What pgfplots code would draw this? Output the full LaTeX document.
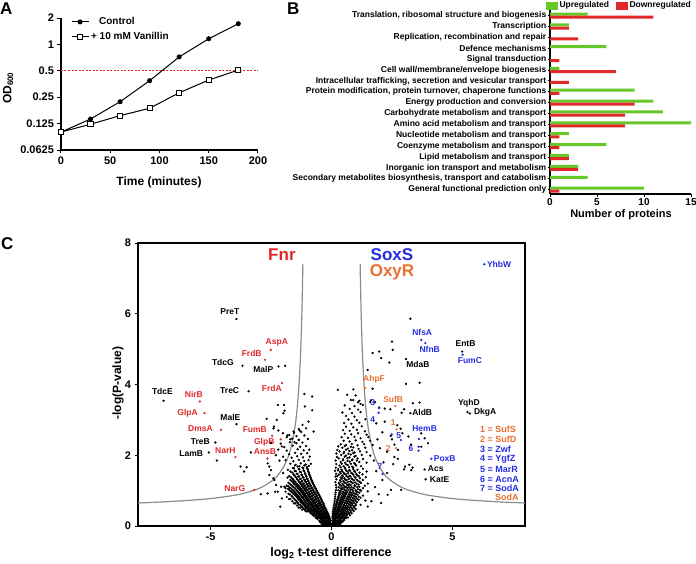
\documentclass[border=0pt]{standalone}
\usepackage{fontspec}
\setmainfont{Liberation Sans}
\usepackage{pgfplots}
\pgfplotsset{compat=1.18}
\newcommand{\fs}[1]{\fontsize{#1}{#1}\selectfont\bfseries}
\definecolor{cred}{RGB}{224,40,40}
\definecolor{cblue}{RGB}{35,45,225}
\definecolor{corange}{RGB}{232,112,50}
\definecolor{cgreen}{RGB}{102,200,40}
\definecolor{curvegray}{RGB}{140,140,140}
\tikzset{lab/.style={font=\fs{8.5}, inner sep=0pt}}
\begin{document}
\begin{tikzpicture}
\useasboundingbox (0,0) rectangle (696pt,-564pt);
% ---------------- Panel A ----------------
\begin{axis}[
 at={(61pt,-150pt)}, anchor=south west, scale only axis, width=197pt, height=132pt,
 xmin=0, xmax=200, ymode=log, log basis y=2, ymin=0.0625, ymax=2,
 axis x line*=bottom, axis y line*=left,
 xtick={0,50,100,150,200}, ytick={0.0625,0.125,0.25,0.5,1,2}, yticklabels={0.0625,0.125,0.25,0.5,1,2},
 tick align=outside, major tick length=3.5pt, every tick/.style={black, line width=1pt},
 axis line style={line width=1.2pt},
 /pgf/number format/assume math mode=true,
 tick label style={font=\fs{11}},
 clip=false,
 legend style={at={(0.05,1.02)}, anchor=north west, draw=none, fill=none, font=\fs{10}, row sep=2pt, inner sep=0pt},
 legend cell align=left,
]
\addplot[cred, line width=0.6pt, dash pattern=on 2pt off 1.5pt, forget plot] coordinates {(0,0.5)(200,0.5)};
\addplot[black, line width=1pt, mark=*, mark size=2pt] coordinates {(0,0.1)(30,0.141)(60,0.222)(90,0.386)(120,0.72)(150,1.16)(180,1.72)};
\addplot[black, line width=1pt, mark=square*, mark options={fill=white, line width=1pt}, mark size=2.6pt] coordinates {(0,0.1)(30,0.123)(60,0.154)(90,0.187)(120,0.281)(150,0.392)(180,0.51)};
\legend{\hspace{8pt}Control, + 10 mM Vanillin}
\end{axis}
% ---------------- Panel B ----------------
\begin{axis}[
 at={(550pt,-194pt)}, anchor=south west, scale only axis, width=141pt, height=186pt,
 xmin=0, xmax=15, ymin=-0.7, ymax=16.4, y dir=reverse,
 axis x line*=bottom, axis y line*=left,
 xtick={0,5,10,15}, ytick={0,...,16},
 yticklabels={{Translation, ribosomal structure and biogenesis},Transcription,{Replication, recombination and repair},Defence mechanisms,Signal transduction,Cell wall/membrane/envelope biogenesis,{Intracellular trafficking, secretion and vesicular transport},{Protein modification, protein turnover, chaperone functions},Energy production and conversion,Carbohydrate metabolism and transport,Amino acid metabolism and transport,Nucleotide metabolism and transport,Coenzyme metabolism and transport,Lipid metabolism and transport,Inorganic ion transport and metabolism,{Secondary metabolites biosynthesis, transport and catabolism},General functional prediction only},
 tick align=outside, major tick length=2.5pt, every tick/.style={black,line width=0.9pt},
 axis line style={line width=1.2pt},
 yticklabel style={font=\fs{8.5}, inner sep=1pt},
 xticklabel style={font=\fs{10}, inner sep=1.5pt},
 /pgf/number format/assume math mode=true,
 clip=false,
 legend columns=2,
 legend style={at={(1.015,1.045)}, anchor=north east, draw=none, fill=none, font=\fs{8.5}, inner sep=0pt, /tikz/every even column/.append style={column sep=5pt}},
]
\addplot[xbar, bar shift=0pt, bar width=3pt, fill=cgreen, draw=none, forget plot] coordinates {(4,-0.14)(2,0.86)(6,2.86)(1,4.86)(9,6.86)(11,7.86)(12,8.86)(15,9.86)(2,10.86)(6,11.86)(2,12.86)(3,13.86)(4,14.86)(10,15.86)};
\addplot[xbar, bar shift=0pt, bar width=3pt, fill=cred, draw=none, forget plot] coordinates {(11,0.14)(2,1.14)(3,2.14)(1,4.14)(7,5.14)(2,6.14)(1,7.14)(9,8.14)(8,9.14)(8,10.14)(1,11.14)(1,12.14)(2,13.14)(3,14.14)(1,16.14)};
\addlegendimage{legend image code/.code={\fill[cgreen] (0pt,-3.5pt) rectangle (11pt,3.5pt);}}
\addlegendentry{Upregulated}
\addlegendimage{legend image code/.code={\fill[cred] (0pt,-3.5pt) rectangle (11pt,3.5pt);}}
\addlegendentry{Downregulated}
\end{axis}
% ---------------- Panel C ----------------
\begin{axis}[
 at={(138pt,-526pt)}, anchor=south west, scale only axis, width=387pt, height=283pt,
 xmin=-8, xmax=8, ymin=0, ymax=8,
 xtick={-5,0,5}, ytick={0,2,4,6,8},
 xtick pos=left, ytick pos=left,
 tick align=outside, major tick length=3.5pt, every tick/.style={black,line width=1pt},
 axis line style={line width=1.3pt},
 tick label style={font=\fs{11}},
 /pgf/number format/assume math mode=true,
 clip=false,
]
\addplot[curvegray, line width=1.2pt, smooth] coordinates {(-1.184,7.40)(-1.19,7.16)(-1.2,6.79)(-1.22,6.16)(-1.25,5.42)(-1.28,4.85)(-1.32,4.27)(-1.36,3.83)(-1.4,3.47)(-1.45,3.13)(-1.5,2.85)(-1.6,2.45)(-1.7,2.16)(-1.8,1.94)(-2.0,1.65)(-2.25,1.41)(-2.5,1.26)(-2.75,1.15)(-3.0,1.06)(-3.5,0.95)(-4.0,0.87)(-5.0,0.775)(-6.0,0.72)(-7.0,0.68)(-8.0,0.65)};
\addplot[curvegray, line width=1.2pt, smooth] coordinates {(1.184,7.40)(1.19,7.16)(1.2,6.79)(1.22,6.16)(1.25,5.42)(1.28,4.85)(1.32,4.27)(1.36,3.83)(1.4,3.47)(1.45,3.13)(1.5,2.85)(1.6,2.45)(1.7,2.16)(1.8,1.94)(2.0,1.65)(2.25,1.41)(2.5,1.26)(2.75,1.15)(3.0,1.06)(3.5,0.95)(4.0,0.87)(5.0,0.775)(6.0,0.72)(7.0,0.68)(8.0,0.65)};
% left cloud
\addplot[only marks, mark=*, mark size=0.95pt, black] coordinates {
(-0.02,0.03)(-0.06,0.01)(-0.1,0.04)(-0.14,0.02)(-0.19,0.05)(-0.24,0.01)(-0.3,0.03)
(-0.03,0.07)(-0.08,0.05)(-0.12,0.08)(-0.17,0.06)(-0.22,0.04)(-0.27,0.08)(-0.33,0.06)(-0.4,0.05)
(-0.05,0.11)(-0.1,0.09)(-0.15,0.12)(-0.2,0.1)(-0.26,0.12)(-0.31,0.09)(-0.37,0.11)(-0.45,0.1)
(-0.04,0.16)(-0.09,0.14)(-0.14,0.17)(-0.19,0.15)(-0.24,0.13)(-0.3,0.16)(-0.36,0.14)(-0.42,0.17)(-0.5,0.15)
(-0.07,0.21)(-0.12,0.19)(-0.18,0.22)(-0.24,0.2)(-0.3,0.18)(-0.36,0.21)(-0.43,0.19)(-0.5,0.22)(-0.58,0.2)
(-0.1,0.27)(-0.16,0.25)(-0.22,0.28)(-0.28,0.24)(-0.35,0.27)(-0.42,0.25)(-0.5,0.28)(-0.57,0.26)(-0.65,0.24)
(-0.13,0.33)(-0.2,0.31)(-0.27,0.34)(-0.34,0.3)(-0.41,0.33)(-0.49,0.31)(-0.56,0.34)(-0.64,0.32)(-0.72,0.3)(-0.8,0.33)
(-0.17,0.39)(-0.25,0.37)(-0.32,0.4)(-0.4,0.36)(-0.48,0.39)(-0.55,0.37)(-0.63,0.4)(-0.71,0.38)(-0.8,0.36)(-0.9,0.39)
(-0.21,0.45)(-0.29,0.43)(-0.37,0.46)(-0.45,0.42)(-0.54,0.45)(-0.62,0.43)(-0.7,0.46)(-0.78,0.44)(-0.87,0.42)(-0.97,0.45)(-1.08,0.43)
(-0.25,0.51)(-0.34,0.49)(-0.43,0.52)(-0.51,0.48)(-0.6,0.51)(-0.68,0.49)(-0.77,0.52)(-0.86,0.5)(-0.95,0.48)(-1.05,0.51)(-1.16,0.49)(-1.3,0.52)
(-0.3,0.57)(-0.39,0.55)(-0.48,0.58)(-0.57,0.54)(-0.66,0.57)(-0.75,0.55)(-0.84,0.58)(-0.93,0.56)(-1.02,0.54)(-1.12,0.57)(-1.24,0.55)
(-0.33,0.63)(-0.44,0.61)(-0.53,0.64)(-0.62,0.6)(-0.72,0.63)(-0.81,0.61)(-0.9,0.64)(-1.0,0.62)(-1.1,0.6)(-1.2,0.63)(-1.35,0.61)(-1.5,0.64)
(-0.38,0.69)(-0.48,0.67)(-0.58,0.7)(-0.68,0.66)(-0.77,0.69)(-0.87,0.67)(-0.97,0.7)(-1.07,0.68)(-1.17,0.66)(-1.28,0.69)(-1.42,0.67)
(-0.42,0.75)(-0.53,0.73)(-0.63,0.76)(-0.73,0.72)(-0.83,0.75)(-0.93,0.73)(-1.03,0.76)(-1.13,0.74)(-1.23,0.72)(-1.35,0.75)(-1.5,0.73)(-1.7,0.76)
(-0.46,0.81)(-0.57,0.79)(-0.68,0.82)(-0.79,0.78)(-0.89,0.81)(-0.99,0.79)(-1.09,0.82)(-1.19,0.8)(-1.3,0.78)(-1.42,0.81)(-1.58,0.79)(-1.85,0.82)
(-0.5,0.87)(-0.62,0.85)(-0.73,0.88)(-0.84,0.84)(-0.95,0.87)(-1.05,0.85)(-1.15,0.88)(-1.26,0.86)(-1.37,0.84)(-1.5,0.87)(-1.65,0.85)
(-0.55,0.93)(-0.67,0.91)(-0.78,0.94)(-0.9,0.9)(-1.0,0.93)(-1.11,0.91)(-1.22,0.94)(-1.33,0.92)(-1.45,0.9)(-1.6,0.93)(-1.78,0.91)
(-0.6,0.99)(-0.72,0.97)(-0.84,1.0)(-0.95,0.96)(-1.06,0.99)(-1.17,0.97)(-1.28,1.0)(-1.4,0.98)(-1.53,0.96)(-1.7,0.99)(-1.9,0.97)
(-0.64,1.05)(-0.77,1.03)(-0.89,1.06)(-1.01,1.02)(-1.12,1.05)(-1.24,1.03)(-1.36,1.06)(-1.48,1.04)(-1.62,1.02)(-1.8,1.05)
(-0.7,1.11)(-0.82,1.09)(-0.95,1.12)(-1.07,1.08)(-1.19,1.11)(-1.3,1.09)(-1.43,1.12)(-1.57,1.1)(-1.72,1.08)(-1.95,1.11)
(-0.73,1.17)(-0.87,1.15)(-1.0,1.18)(-1.12,1.14)(-1.25,1.17)(-1.38,1.15)(-1.52,1.18)(-1.67,1.16)(-1.85,1.14)
(-0.78,1.23)(-0.92,1.21)(-1.05,1.24)(-1.18,1.2)(-1.32,1.23)(-1.46,1.21)(-1.6,1.24)(-1.78,1.22)
(-0.82,1.29)(-0.97,1.27)(-1.1,1.3)(-1.24,1.26)(-1.38,1.29)(-1.54,1.27)(-1.7,1.3)
(-0.86,1.36)(-1.02,1.34)(-1.16,1.37)(-1.3,1.33)(-1.45,1.36)(-1.62,1.34)(-1.82,1.37)
(-0.9,1.43)(-1.06,1.41)(-1.22,1.44)(-1.37,1.4)(-1.53,1.43)(-1.75,1.41)
(-0.94,1.51)(-1.1,1.49)(-1.27,1.52)(-1.44,1.48)(-1.62,1.51)
(-0.98,1.59)(-1.15,1.57)(-1.33,1.6)(-1.52,1.56)(-1.8,1.59)
(-1.02,1.67)(-1.2,1.65)(-1.4,1.68)(-1.6,1.64)
(-0.85,1.76)(-1.07,1.74)(-1.27,1.77)(-1.48,1.73)(-1.7,1.76)
(-0.95,1.86)(-1.13,1.84)(-1.35,1.87)(-1.58,1.83)(-1.9,1.86)
(-0.9,1.96)(-1.18,1.94)(-1.42,1.97)(-1.65,1.93)(-2.0,1.96)
(-1.0,2.06)(-1.25,2.04)(-1.5,2.07)(-1.75,2.03)
(-0.92,2.16)(-1.15,2.14)(-1.4,2.17)(-1.85,2.13)(-2.2,2.16)
(-1.05,2.26)(-1.3,2.24)(-1.6,2.27)(-1.95,2.23)
(-1.2,2.36)(-1.45,2.34)(-1.72,2.37)(-2.1,2.33)
(-0.98,2.46)(-1.35,2.44)(-1.62,2.47)
(-1.12,2.56)(-1.45,2.54)(-1.75,2.57)
(-1.25,2.66)(-1.55,2.64)
(-1.05,2.76)(-1.35,2.74)
(-1.2,2.86)
(-0.04,0.04)(-0.08,0.03)(-0.12,0.05)(-0.16,0.03)(-0.21,0.06)(-0.27,0.04)(-0.34,0.05)
(-0.07,0.13)(-0.12,0.12)(-0.17,0.14)(-0.23,0.12)(-0.28,0.14)(-0.34,0.12)(-0.4,0.13)(-0.47,0.12)
(-0.09,0.23)(-0.15,0.24)(-0.21,0.22)(-0.27,0.24)(-0.33,0.23)(-0.39,0.22)(-0.46,0.24)(-0.54,0.23)(-0.62,0.22)
(-0.13,0.29)(-0.19,0.3)(-0.25,0.28)(-0.32,0.3)(-0.38,0.29)(-0.46,0.28)(-0.53,0.3)(-0.61,0.29)(-0.69,0.28)(-0.76,0.3)
(-0.16,0.35)(-0.23,0.36)(-0.3,0.34)(-0.37,0.36)(-0.45,0.35)(-0.52,0.34)(-0.6,0.36)(-0.68,0.35)(-0.76,0.34)(-0.85,0.36)
(-0.2,0.41)(-0.28,0.42)(-0.36,0.4)(-0.44,0.42)(-0.51,0.41)(-0.59,0.4)(-0.67,0.42)(-0.75,0.41)(-0.84,0.4)(-0.93,0.42)(-1.02,0.41)
(-0.24,0.47)(-0.32,0.48)(-0.41,0.46)(-0.49,0.48)(-0.57,0.47)(-0.66,0.46)(-0.74,0.48)(-0.82,0.47)(-0.91,0.46)(-1.0,0.48)(-1.11,0.47)(-1.22,0.46)
(-0.28,0.53)(-0.37,0.54)(-0.46,0.52)(-0.55,0.54)(-0.63,0.53)(-0.72,0.52)(-0.81,0.54)(-0.9,0.53)(-0.99,0.52)(-1.09,0.54)(-1.2,0.53)(-1.36,0.52)
(-0.31,0.59)(-0.41,0.6)(-0.5,0.58)(-0.6,0.6)(-0.69,0.59)(-0.78,0.58)(-0.87,0.6)(-0.96,0.59)(-1.06,0.58)(-1.16,0.6)(-1.28,0.59)(-1.42,0.58)
(-0.35,0.65)(-0.46,0.66)(-0.55,0.64)(-0.65,0.66)(-0.75,0.65)(-0.84,0.64)(-0.94,0.66)(-1.04,0.65)(-1.14,0.64)(-1.25,0.66)(-1.38,0.65)(-1.55,0.64)
(-0.4,0.71)(-0.51,0.72)(-0.61,0.7)(-0.71,0.72)(-0.8,0.71)(-0.9,0.7)(-1.0,0.72)(-1.1,0.71)(-1.2,0.7)(-1.31,0.72)(-1.45,0.71)(-1.62,0.7)
(-0.44,0.77)(-0.55,0.78)(-0.66,0.76)(-0.76,0.78)(-0.86,0.77)(-0.96,0.76)(-1.06,0.78)(-1.16,0.77)(-1.27,0.76)(-1.39,0.78)(-1.54,0.77)(-1.76,0.76)
(-0.48,0.83)(-0.6,0.84)(-0.7,0.82)(-0.81,0.84)(-0.92,0.83)(-1.02,0.82)(-1.12,0.84)(-1.23,0.83)(-1.34,0.82)(-1.46,0.84)(-1.62,0.83)
(-0.53,0.89)(-0.65,0.9)(-0.76,0.88)(-0.87,0.9)(-0.97,0.89)(-1.08,0.88)(-1.19,0.9)(-1.3,0.89)(-1.41,0.88)(-1.55,0.9)(-1.72,0.89)
(-0.58,0.95)(-0.7,0.96)(-0.81,0.94)(-0.92,0.96)(-1.03,0.95)(-1.14,0.94)(-1.25,0.96)(-1.36,0.95)(-1.49,0.94)(-1.65,0.96)
(-0.62,1.01)(-0.75,1.02)(-0.86,1.0)(-0.98,1.02)(-1.09,1.01)(-1.2,1.0)(-1.32,1.02)(-1.44,1.01)(-1.57,1.0)(-1.75,1.02)
(-0.67,1.07)(-0.8,1.08)(-0.92,1.06)(-1.04,1.08)(-1.16,1.07)(-1.27,1.06)(-1.4,1.08)(-1.52,1.07)(-1.67,1.06)
(-0.72,1.13)(-0.85,1.14)(-0.98,1.12)(-1.1,1.14)(-1.22,1.13)(-1.34,1.12)(-1.47,1.14)(-1.62,1.13)(-1.78,1.12)
(-0.76,1.19)(-0.9,1.2)(-1.03,1.18)(-1.15,1.2)(-1.28,1.19)(-1.42,1.18)(-1.56,1.2)(-1.72,1.19)
(-0.8,1.26)(-0.95,1.27)(-1.08,1.25)(-1.21,1.27)(-1.35,1.26)(-1.5,1.25)(-1.65,1.27)
(-0.84,1.32)(-0.99,1.33)(-1.13,1.31)(-1.27,1.33)(-1.42,1.32)(-1.58,1.31)
(-0.88,1.39)(-1.04,1.4)(-1.19,1.38)(-1.34,1.4)(-1.49,1.39)(-1.68,1.38)
(-0.92,1.46)(-1.08,1.47)(-1.24,1.45)(-1.4,1.47)(-1.57,1.46)
(-0.96,1.54)(-1.13,1.55)(-1.3,1.53)(-1.48,1.55)(-1.7,1.54)
(-1.0,1.62)(-1.17,1.63)(-1.36,1.61)(-1.55,1.63)
(-0.94,1.7)(-1.12,1.71)(-1.33,1.69)(-1.52,1.71)
(-1.12,3.73)(-0.8,3.66)(-1.1,3.38)(-0.8,3.27)(-1.96,3.42)(-1.94,3.26)(-2.26,3.0)(-2.38,2.81)(-2.2,2.7)(-2.01,2.62)(-1.82,2.56)(-1.57,2.67)(-1.32,2.7)(-2.22,3.42)(-1.99,3.19)(-2.68,3.03)(-2.4,2.76)(-1.85,2.51)(-1.53,2.37)(-1.36,2.43)(-3.76,1.68)(-3.51,1.66)(-3.61,1.54)(-4.74,1.85)(-3.33,2.08)(-2.64,1.77)(-2.57,1.68)(-2.5,1.58)(-2.57,1.44)(-2.4,1.35)(-2.29,1.16)(-2.08,1.11)(-2.22,0.97)(-1.9,1.07)(-2.92,0.9)(-2.64,0.92)(-2.33,0.97)(-2.05,0.78)(-2.12,0.55)(-2.36,1.3)(-2.0,1.5)(-2.15,1.85)(-2.3,2.0)(-2.05,2.25)(-2.5,2.35)(-0.74,2.67)(-0.95,2.95)(-1.7,2.45)
(-2.19,4.51)(-1.92,4.53)(-3.93,5.85)(-3.68,4.53)(-6.94,3.54)(-3.43,3.81)(-3.93,2.88)(-4.8,2.36)(-5.07,2.08)
};
% right cloud
\addplot[only marks, mark=*, mark size=0.95pt, black] coordinates {
(0.02,0.03)(0.06,0.01)(0.1,0.04)(0.15,0.02)(0.2,0.05)(0.26,0.01)
(0.03,0.07)(0.08,0.05)(0.13,0.08)(0.18,0.06)(0.24,0.04)(0.3,0.08)(0.37,0.06)
(0.05,0.11)(0.1,0.09)(0.16,0.12)(0.22,0.1)(0.28,0.12)(0.35,0.09)(0.42,0.11)
(0.04,0.16)(0.1,0.14)(0.16,0.17)(0.22,0.15)(0.29,0.13)(0.36,0.16)(0.44,0.14)(0.52,0.17)
(0.07,0.21)(0.13,0.19)(0.2,0.22)(0.27,0.2)(0.34,0.18)(0.42,0.21)(0.5,0.19)(0.6,0.22)
(0.05,0.27)(0.12,0.25)(0.19,0.28)(0.26,0.24)(0.33,0.27)(0.41,0.25)(0.49,0.28)(0.58,0.26)(0.68,0.24)
(0.08,0.33)(0.15,0.31)(0.23,0.34)(0.31,0.3)(0.39,0.33)(0.47,0.31)(0.56,0.34)(0.65,0.32)(0.76,0.3)
(0.1,0.39)(0.18,0.37)(0.26,0.4)(0.35,0.36)(0.43,0.39)(0.52,0.37)(0.61,0.4)(0.71,0.38)(0.83,0.36)
(0.12,0.45)(0.21,0.43)(0.3,0.46)(0.39,0.42)(0.48,0.45)(0.57,0.43)(0.67,0.46)(0.78,0.44)(0.92,0.42)
(0.14,0.51)(0.24,0.49)(0.33,0.52)(0.43,0.48)(0.52,0.51)(0.62,0.49)(0.73,0.52)(0.85,0.5)(1.0,0.48)
(0.17,0.57)(0.27,0.55)(0.37,0.58)(0.47,0.54)(0.57,0.57)(0.68,0.55)(0.79,0.58)(0.92,0.56)
(0.19,0.63)(0.3,0.61)(0.4,0.64)(0.51,0.6)(0.62,0.63)(0.73,0.61)(0.85,0.64)(1.0,0.62)(1.2,0.6)
(0.22,0.69)(0.33,0.67)(0.44,0.7)(0.55,0.66)(0.66,0.69)(0.78,0.67)(0.9,0.7)(1.05,0.68)
(0.24,0.75)(0.36,0.73)(0.48,0.76)(0.6,0.72)(0.71,0.75)(0.83,0.73)(0.96,0.76)(1.12,0.74)(1.4,0.72)
(0.27,0.81)(0.39,0.79)(0.51,0.82)(0.63,0.78)(0.75,0.81)(0.88,0.79)(1.02,0.82)(1.2,0.8)
(0.3,0.87)(0.42,0.85)(0.55,0.88)(0.67,0.84)(0.8,0.87)(0.93,0.85)(1.08,0.88)(1.3,0.86)
(0.32,0.93)(0.45,0.91)(0.58,0.94)(0.71,0.9)(0.84,0.93)(0.98,0.91)(1.15,0.94)
(0.35,0.99)(0.48,0.97)(0.61,1.0)(0.75,0.96)(0.88,0.99)(1.03,0.97)(1.22,1.0)(1.5,0.98)
(0.38,1.06)(0.52,1.04)(0.65,1.07)(0.79,1.03)(0.93,1.06)(1.09,1.04)(1.3,1.07)
(0.41,1.13)(0.55,1.11)(0.69,1.14)(0.83,1.1)(0.98,1.13)(1.15,1.11)(1.38,1.14)
(0.3,1.21)(0.45,1.19)(0.59,1.22)(0.73,1.18)(0.88,1.21)(1.04,1.19)(1.22,1.22)(1.5,1.2)
(0.35,1.29)(0.49,1.27)(0.63,1.3)(0.78,1.26)(0.93,1.29)(1.1,1.27)(1.3,1.3)
(0.38,1.37)(0.53,1.35)(0.68,1.38)(0.83,1.34)(0.99,1.37)(1.17,1.35)(1.42,1.38)
(0.3,1.45)(0.45,1.43)(0.6,1.46)(0.75,1.42)(0.9,1.45)(1.07,1.43)(1.28,1.46)
(0.35,1.53)(0.5,1.51)(0.66,1.54)(0.82,1.5)(0.98,1.53)(1.16,1.51)(1.45,1.54)
(0.28,1.61)(0.42,1.59)(0.57,1.62)(0.73,1.58)(0.9,1.61)(1.07,1.59)(1.3,1.62)
(0.33,1.71)(0.5,1.69)(0.67,1.72)(0.85,1.68)(1.02,1.71)(1.22,1.69)
(0.38,1.81)(0.56,1.79)(0.75,1.82)(0.94,1.78)(1.15,1.81)(1.45,1.79)
(0.3,1.91)(0.48,1.89)(0.66,1.92)(0.86,1.88)(1.08,1.91)(1.3,1.89)
(0.4,2.01)(0.6,1.99)(0.8,2.02)(1.0,1.98)(1.25,2.01)(1.6,1.99)
(0.33,2.11)(0.52,2.09)(0.74,2.12)(0.95,2.08)(1.18,2.11)(1.45,2.09)
(0.45,2.21)(0.68,2.19)(0.9,2.22)(1.12,2.18)(1.4,2.21)
(0.38,2.31)(0.6,2.29)(0.84,2.32)(1.08,2.28)(1.35,2.31)(1.7,2.29)
(0.5,2.41)(0.75,2.39)(1.0,2.42)(1.28,2.38)(1.6,2.41)
(0.42,2.51)(0.68,2.49)(0.95,2.52)(1.2,2.48)(1.52,2.51)
(0.55,2.61)(0.82,2.59)(1.1,2.62)(1.45,2.58)
(0.48,2.71)(0.75,2.69)(1.05,2.72)(1.38,2.68)
(0.6,2.81)(0.9,2.79)(1.25,2.82)
(0.52,2.91)(0.82,2.89)(1.15,2.92)
(0.7,3.01)(1.05,2.99)(1.4,3.02)
(0.6,3.11)(0.95,3.09)
(0.45,3.21)(0.85,3.19)(1.2,3.22)
(0.75,3.31)(1.1,3.29)
(0.55,3.41)(0.95,3.39)(1.3,3.42)
(0.8,3.56)(1.15,3.54)
(0.65,3.71)(1.0,3.69)
(0.26,3.85)(0.9,3.86)
(0.04,0.04)(0.08,0.03)(0.12,0.05)(0.17,0.03)(0.23,0.06)(0.3,0.04)
(0.07,0.13)(0.13,0.12)(0.19,0.14)(0.25,0.12)(0.32,0.14)(0.39,0.12)(0.47,0.13)
(0.04,0.23)(0.1,0.24)(0.17,0.22)(0.23,0.24)(0.3,0.23)(0.38,0.22)(0.46,0.24)(0.55,0.23)
(0.06,0.29)(0.14,0.3)(0.22,0.28)(0.29,0.3)(0.37,0.29)(0.45,0.28)(0.53,0.3)(0.62,0.29)
(0.05,0.35)(0.13,0.36)(0.21,0.34)(0.29,0.36)(0.37,0.35)(0.45,0.34)(0.54,0.36)(0.63,0.35)(0.74,0.34)
(0.06,0.41)(0.15,0.42)(0.23,0.4)(0.32,0.42)(0.4,0.41)(0.49,0.4)(0.58,0.42)(0.68,0.41)(0.8,0.4)
(0.07,0.47)(0.17,0.48)(0.26,0.46)(0.35,0.48)(0.44,0.47)(0.53,0.46)(0.63,0.48)(0.74,0.47)(0.87,0.46)
(0.09,0.53)(0.19,0.54)(0.29,0.52)(0.38,0.54)(0.48,0.53)(0.58,0.52)(0.68,0.54)(0.8,0.53)(0.94,0.52)
(0.1,0.59)(0.21,0.6)(0.32,0.58)(0.42,0.6)(0.52,0.59)(0.63,0.58)(0.74,0.6)(0.86,0.59)(1.0,0.58)
(0.12,0.65)(0.24,0.66)(0.35,0.64)(0.46,0.66)(0.57,0.65)(0.68,0.64)(0.8,0.66)(0.93,0.65)
(0.13,0.71)(0.26,0.72)(0.38,0.7)(0.5,0.72)(0.61,0.71)(0.73,0.7)(0.85,0.72)(0.99,0.71)
(0.14,0.77)(0.29,0.78)(0.42,0.76)(0.54,0.78)(0.66,0.77)(0.78,0.76)(0.91,0.78)(1.06,0.77)
(0.15,0.83)(0.32,0.84)(0.45,0.82)(0.57,0.84)(0.7,0.83)(0.82,0.82)(0.96,0.84)(1.13,0.83)
(0.16,0.89)(0.35,0.9)(0.49,0.88)(0.61,0.9)(0.74,0.89)(0.87,0.88)(1.02,0.9)
(0.17,0.95)(0.38,0.96)(0.52,0.94)(0.65,0.96)(0.78,0.95)(0.92,0.94)(1.08,0.96)
(0.18,1.02)(0.28,1.01)(0.42,1.03)(0.56,1.01)(0.7,1.02)(0.84,1.03)(1.0,1.01)(1.18,1.02)
(0.2,1.09)(0.3,1.1)(0.46,1.08)(0.6,1.1)(0.74,1.09)(0.9,1.08)(1.06,1.1)
(0.18,1.16)(0.34,1.17)(0.5,1.15)(0.64,1.17)(0.79,1.16)(0.95,1.15)(1.12,1.17)
(0.16,1.24)(0.38,1.25)(0.53,1.23)(0.68,1.25)(0.83,1.24)(0.98,1.23)(1.16,1.25)
(0.2,1.32)(0.42,1.33)(0.57,1.31)(0.72,1.33)(0.87,1.32)(1.04,1.31)
(0.17,1.4)(0.24,1.41)(0.46,1.39)(0.62,1.41)(0.78,1.4)(0.95,1.39)(1.13,1.41)
(0.19,1.48)(0.38,1.49)(0.53,1.47)(0.69,1.49)(0.86,1.48)(1.03,1.47)
(0.15,1.56)(0.27,1.57)(0.44,1.55)(0.6,1.57)(0.77,1.56)(0.94,1.55)
(0.18,1.65)(0.38,1.66)(0.55,1.64)(0.73,1.66)(0.9,1.65)
(0.2,1.75)(0.42,1.76)(0.6,1.74)(0.8,1.76)(0.98,1.75)
(0.17,1.85)(0.47,1.86)(0.66,1.84)(0.85,1.86)(1.05,1.85)
(0.22,1.95)(0.55,1.96)(0.74,1.94)(0.95,1.96)
(0.2,2.05)(0.5,2.06)(0.7,2.04)(0.9,2.06)
(0.24,2.15)(0.6,2.16)(0.85,2.14)
(0.28,2.25)(0.55,2.26)(0.8,2.24)
(2.5,5.21)(1.7,4.89)(1.97,4.93)(2.53,4.98)(2.39,4.62)(2.05,4.75)(3.26,5.86)(3.08,4.02)(3.64,4.05)(1.49,4.41)(1.7,3.88)(3.36,3.47)(3.64,3.49)(3.0,3.3)(2.9,3.2)(2.2,3.32)(2.43,3.3)(1.97,3.35)(2.72,2.85)(2.86,2.75)(2.93,2.62)(3.71,2.62)(3.99,2.34)(3.71,2.24)(3.85,2.48)(3.18,2.53)(3.29,2.3)(3.3,1.58)(3.35,1.65)(3.0,1.6)(2.6,1.95)(2.74,1.9)(3.04,1.68)(3.22,1.73)(2.46,1.02)(2.88,1.02)(2.32,0.88)(4.17,0.74)(2.1,1.3)(2.3,1.5)(2.55,1.75)(2.0,2.2)(2.3,2.1)(2.6,2.3)(2.45,2.55)(2.1,2.65)(1.85,2.9)(2.2,2.95)(2.5,2.45)(2.75,2.15)(1.8,1.1)(1.95,0.9)(1.65,0.7)(2.05,0.65)(1.5,0.55)(1.85,1.55)(1.75,1.85)(1.9,2.45)(2.15,1.8)(1.6,3.5)(1.1,3.5)(1.2,3.45)(0.9,3.56)(1.63,3.55)(1.8,3.5)
(5.4,4.93)(3.08,4.72)(3.26,3.19)(5.62,3.22)(5.72,3.18)(3.85,1.6)(3.89,1.32)
};
% coloured dots
\addplot[only marks, mark=*, mark size=0.95pt, cred] coordinates {(-2.51,4.98)(-2.75,4.70)(-2.05,4.04)(-5.44,3.52)(-5.25,3.19)(-4.57,2.72)(-2.45,2.55)(-2.1,2.45)(-3.97,1.95)(-2.65,1.91)(-3.2,1.02)};
\addplot[only marks, mark=*, mark size=0.95pt, cblue] coordinates {(6.32,7.40)(3.71,5.26)(3.88,5.17)(5.42,4.84)(3.61,2.46)(4.13,1.9)(1.97,3.33)(1.95,3.2)(2.49,2.59)(2.875,2.43)(3.6,2.24)(3.6,2.13)(2.11,1.47)};
\addplot[only marks, mark=*, mark size=0.95pt, corange] coordinates {(1.39,3.9)(2.64,3.39)(2.69,2.73)(2.67,2.2)};
% labels
\node[font=\fs{17}, text=cred] at (axis cs:-2.05,7.67) {Fnr};
\node[font=\fs{17}, text=cblue] at (axis cs:2.5,7.67) {SoxS};
\node[font=\fs{17}, text=corange] at (axis cs:2.5,7.16) {OxyR};
\node[lab] at (axis cs:-4.2,6.06) {PreT};
\node[lab] at (axis cs:-4.49,4.62) {TdcG};
\node[lab] at (axis cs:-2.82,4.43) {MalP};
\node[lab] at (axis cs:-6.99,3.8) {TdcE};
\node[lab] at (axis cs:-4.21,3.83) {TreC};
\node[lab] at (axis cs:-4.18,3.06) {MalE};
\node[lab] at (axis cs:-5.42,2.39) {TreB};
\node[lab] at (axis cs:-5.8,2.04) {LamB};
\node[lab, text=cred] at (axis cs:-2.26,5.19) {AspA};
\node[lab, text=cred] at (axis cs:-3.3,4.88) {FrdB};
\node[lab, text=cred] at (axis cs:-2.47,3.89) {FrdA};
\node[lab, text=cred] at (axis cs:-5.69,3.73) {NirB};
\node[lab, text=cred] at (axis cs:-5.95,3.19) {GlpA};
\node[lab, text=cred] at (axis cs:-5.42,2.74) {DmsA};
\node[lab, text=cred] at (axis cs:-3.17,2.72) {FumB};
\node[lab, text=cred] at (axis cs:-2.78,2.36) {GlpB};
\node[lab, text=cred] at (axis cs:-4.39,2.13) {NarH};
\node[lab, text=cred] at (axis cs:-2.75,2.10) {AnsB};
\node[lab, text=cred] at (axis cs:-4.0,1.07) {NarG};
\node[lab, text=cblue, anchor=west] at (axis cs:6.42,7.4) {YhbW};
\node[lab, text=cblue] at (axis cs:3.75,5.47) {NfsA};
\node[lab, text=cblue] at (axis cs:4.06,5.0) {NfnB};
\node[lab] at (axis cs:5.54,5.15) {EntB};
\node[lab, text=cblue] at (axis cs:5.72,4.68) {FumC};
\node[lab] at (axis cs:3.57,4.56) {MdaB};
\node[lab, text=corange] at (axis cs:1.76,4.15) {AhpF};
\node[lab, text=corange] at (axis cs:2.55,3.59) {SufB};
\node[lab] at (axis cs:3.75,3.22) {AldB};
\node[lab] at (axis cs:5.68,3.47) {YqhD};
\node[lab] at (axis cs:6.35,3.2) {DkgA};
\node[lab, text=cblue] at (axis cs:3.85,2.74) {HemB};
\node[lab, text=cblue] at (axis cs:4.68,1.91) {PoxB};
\node[lab] at (axis cs:4.31,1.61) {Acs};
\node[lab] at (axis cs:4.47,1.32) {KatE};
\node[lab, text=corange] at (axis cs:2.55,2.92) {1};
\node[lab, text=corange] at (axis cs:2.35,2.2) {2};
\node[lab, text=cblue] at (axis cs:1.7,3.49) {3};
\node[lab, text=cblue] at (axis cs:1.7,3.02) {4};
\node[lab, text=cblue] at (axis cs:2.78,2.55) {5};
\node[lab, text=cblue] at (axis cs:3.29,2.18) {6};
\node[lab, text=cblue] at (axis cs:2.0,1.68) {7};
\node[lab, font=\fs{9}, text=corange, anchor=west] at (axis cs:6.14,2.73) {1 = SufS};
\node[lab, font=\fs{9}, text=corange, anchor=west] at (axis cs:6.14,2.45) {2 = SufD};
\node[lab, font=\fs{9}, text=cblue, anchor=west] at (axis cs:6.14,2.17) {3 = Zwf};
\node[lab, font=\fs{9}, text=cblue, anchor=west] at (axis cs:6.14,1.9) {4 = YgfZ};
\node[lab, font=\fs{9}, text=cblue, anchor=west] at (axis cs:6.14,1.61) {5 = MarR};
\node[lab, font=\fs{9}, text=cblue, anchor=west] at (axis cs:6.14,1.33) {6 = AcnA};
\node[lab, font=\fs{9}, text=cblue, anchor=west] at (axis cs:6.14,1.06) {7 = SodA};
\node[lab, font=\fs{9}, text=corange, anchor=east] at (axis cs:7.74,0.80) {SodA};
\end{axis}
% panel letters and axis titles
\node[anchor=base west, inner sep=0, font=\fs{17}] at (0pt,-15pt) {A};
\node[anchor=base west, inner sep=0, font=\fs{17}] at (287pt,-15pt) {B};
\node[anchor=base west, inner sep=0, font=\fs{17}] at (1pt,-249pt) {C};
\node[rotate=90, font=\fs{12}] at (8pt,-88pt) {OD\textsubscript{600}};
\node[font=\fs{12}] at (159pt,-182pt) {Time (minutes)};
\node[font=\fs{11}, inner sep=1pt] at (621pt,-215pt) {Number of proteins};
\node[rotate=90, font=\fs{12}] at (118pt,-383pt) {-log(P-value)};
\node[font=\fs{12.5}] at (331pt,-553pt) {log\textsubscript{2} t-test difference};
\end{tikzpicture}
\end{document}
